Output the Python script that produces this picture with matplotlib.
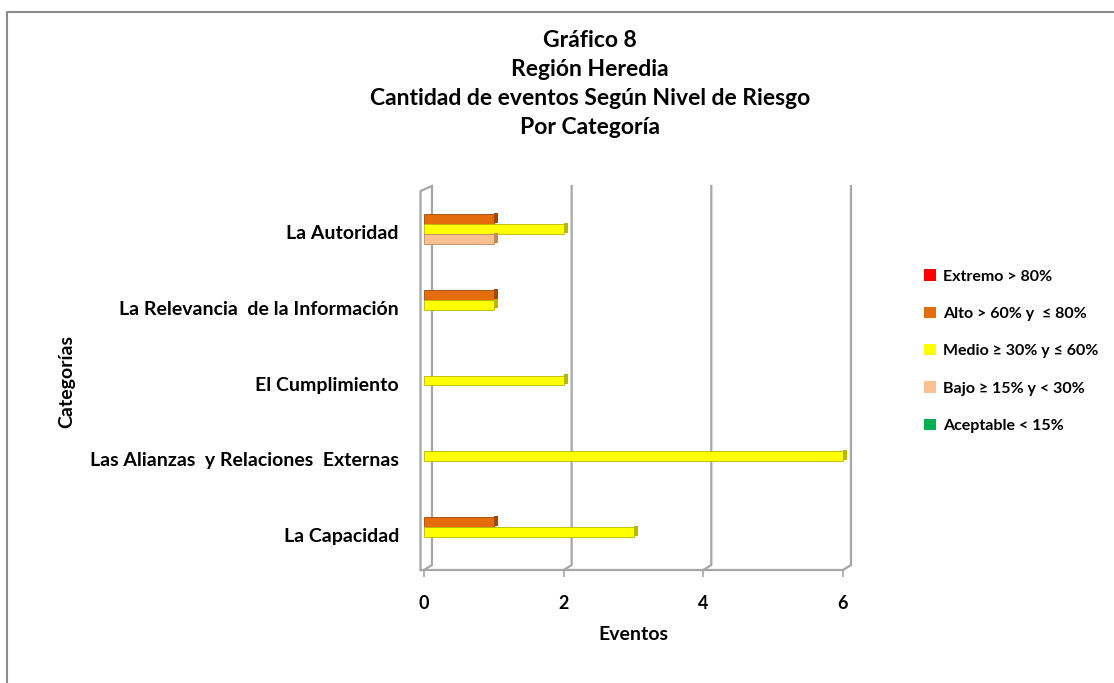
import matplotlib
matplotlib.use("Agg")
import matplotlib.pyplot as plt
import matplotlib.transforms as mtransforms
from matplotlib.patches import Patch
from matplotlib.lines import Line2D
import numpy as np

plt.rcParams['font.family'] = ['Lato', 'DejaVu Sans']
plt.rcParams['font.weight'] = 'bold'

categorias = ["La Capacidad", "Las Alianzas  y Relaciones  Externas", "El Cumplimiento",
              "La Relevancia  de la Información", "La Autoridad"]
niveles = ["Extremo > 80%", "Alto > 60% y  ≤ 80%", "Medio ≥ 30% y ≤ 60%",
           "Bajo ≥ 15% y < 30%", "Aceptable < 15%"]
extremo = [0, 0, 0, 0, 0]
alto = [1, 0, 0, 1, 1]
medio = [3, 6, 2, 1, 2]
bajo = [0, 0, 0, 0, 1]
aceptable = [0, 0, 0, 0, 0]
ticks_x = [0, 2, 4, 6]

colores = ["#FF0000", "#E46C0A", "#FFFF00", "#FAC090", "#00B050"]
lados = ["#B00000", "#A04808", "#B8B800", "#C08A60", "#007A38"]
series = [extremo, alto, medio, bajo, aceptable]

W, H = 1114, 683
fig = plt.figure(figsize=(W / 100, H / 100), dpi=100)
# plot area in pixels: x 424..843, y 191..570
ax = fig.add_axes([424 / W, 1 - 570 / H, (843 - 424) / W, (570 - 191) / H])
ax.set_xlim(0, 6)
ax.set_ylim(-0.5, 4.5)

y = np.arange(len(categorias))
h = 0.13
offs = [2 * h, h, 0, -h, -2 * h]
cap = 0.06
for vals, off, c, lc in zip(series, offs, colores, lados):
    vals = np.array(vals, dtype=float)
    lw = np.where(vals > 0, 0.6, 0)
    ax.barh(y + off, vals, height=h, color=c, edgecolor=lc, linewidth=lw,
            zorder=3, clip_on=False)
    ax.barh(y + off + 0.015, np.where(vals > 0, cap, 0), left=vals, height=h,
            color=lc, linewidth=0, zorder=3, clip_on=False)

# 3D-like walls / gridlines
gcol = "#A6A6A6"
dx = 8 / 70
dy = 5 / 75.8
top = 4.5 + 5 / 75.8
for t in ticks_x:
    ax.plot([t + dx, t + dx, t], [top, -0.5 + dy, -0.5], color=gcol, lw=1.6,
            clip_on=False, zorder=1, solid_joinstyle='miter')
ax.plot([-0.05, -0.05, dx], [-0.5, 4.5, top], color=gcol, lw=1.6,
        clip_on=False, zorder=1)
ax.plot([-0.05, 6], [-0.5, -0.5], color=gcol, lw=1.6, clip_on=False, zorder=1)

for s in ax.spines.values():
    s.set_visible(False)
ax.set_xticks(ticks_x)
ax.set_xticklabels([str(t) for t in ticks_x], fontsize=13, fontweight='bold')
ax.tick_params(axis='x', length=5, width=1.2, color=gcol, pad=13)
ax.set_yticks(y)
ax.set_yticklabels(categorias, fontsize=14, fontweight='bold')
ax.tick_params(axis='y', length=0, pad=18)
shift = mtransforms.ScaledTranslation(0, -3 / 100, fig.dpi_scale_trans)
for lab in ax.get_yticklabels():
    lab.set_transform(lab.get_transform() + shift)

ax.set_xlabel("Eventos", fontsize=14, fontweight='bold', labelpad=10)
fig.text(67 / W, 1 - 381 / H, "Categorías", rotation=90, ha='center', va='center',
         fontsize=14, fontweight='bold')

fig.text(590 / W, 1 - 84 / H,
         "Gráfico 8\nRegión Heredia\nCantidad de eventos Según Nivel de Riesgo\nPor Categoría",
         ha='center', va='center', fontsize=16.5, fontweight='bold', linespacing=1.47)

handles = [Patch(facecolor=c, edgecolor='none') for c in colores]
fig.legend(handles, niveles, loc='upper left', bbox_to_anchor=(918 / W, 1 - 263 / H),
           frameon=False, fontsize=11.5, handlelength=0.7, handleheight=0.7,
           handletextpad=0.45, labelspacing=1.45, borderaxespad=0)

# outer frame (left and top)
fig.add_artist(Line2D([7 / W, 7 / W, 1], [0, 1 - 12 / H, 1 - 12 / H],
                      transform=fig.transFigure, color="#8C8C8C", lw=1.5))

fig.savefig("out.png", dpi=100)
